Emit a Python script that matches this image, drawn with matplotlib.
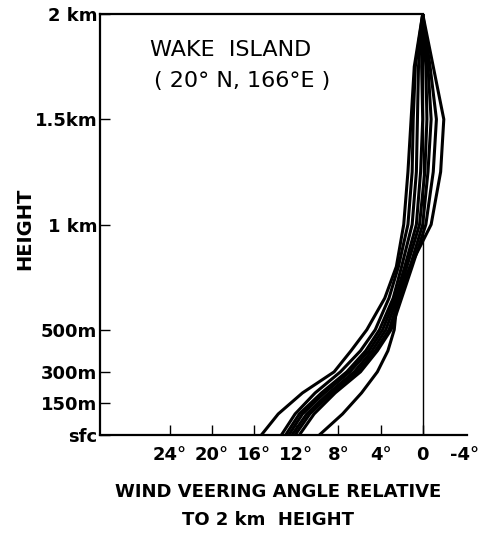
import matplotlib
matplotlib.use("Agg")
import matplotlib.pyplot as plt

# heights (m) at which the veering angle of each sounding is read
heights = [0, 100, 200, 300, 400, 500, 650, 800, 1000, 1250, 1500, 1750, 2000]

# veering angle (deg) relative to the 2 km wind, one list per sounding
sounding_1 = [15.3, 13.7, 11.4, 8.4, 6.8, 5.3, 3.6, 2.5, 1.8, 1.4, 1.1, 0.8, 0.0]
sounding_2 = [13.4, 12.1, 10.2, 7.8, 5.9, 4.5, 3.2, 2.3, 1.4, 1.0, 0.9, 0.7, 0.0]
sounding_3 = [13.0, 11.7, 9.6, 7.2, 5.4, 4.1, 2.8, 2.0, 1.0, 0.6, 0.5, 0.4, 0.0]
sounding_4 = [12.7, 11.4, 9.3, 6.9, 5.1, 3.8, 2.6, 1.7, 0.6, 0.2, 0.0, 0.1, 0.0]
sounding_5 = [12.4, 11.0, 8.9, 6.5, 4.8, 3.5, 2.4, 1.5, 0.3, -0.2, -0.4, -0.3, 0.0]
sounding_6 = [12.1, 10.7, 8.6, 6.2, 4.5, 3.2, 2.2, 1.2, 0.0, -0.5, -0.8, -0.5, 0.0]
sounding_7 = [11.7, 10.3, 8.3, 5.9, 4.3, 3.0, 2.0, 1.0, -0.3, -1.0, -1.3, -0.7, 0.0]
sounding_8 = [9.8, 7.6, 5.8, 4.3, 3.3, 2.7, 2.4, 1.2, -0.8, -1.7, -2.0, -1.0, 0.0]

soundings = [sounding_1, sounding_2, sounding_3, sounding_4,
             sounding_5, sounding_6, sounding_7, sounding_8]

angle_ticks = [24, 20, 16, 12, 8, 4, 0, -4]
angle_labels = ["24°", "20°", "16°", "12°", "8°", "4°", "0", "-4°"]
height_ticks = [0, 150, 300, 500, 1000, 1500, 2000]
height_labels = ["sfc", "150m", "300m", "500m", "1 km", "1.5km", "2 km"]

fig = plt.figure(figsize=(4.81, 5.33), dpi=100)
ax = fig.add_axes([100 / 481, 98 / 533, 367 / 481, 421 / 533])

for s in soundings:
    ax.plot(s, heights, color="black", lw=2.2, solid_joinstyle="round",
            solid_capstyle="round")

# zero-veering reference line
ax.axvline(0, color="black", lw=1.0)

ax.set_xlim(30.6, -4.2)
ax.set_ylim(0, 2000)

ax.spines["right"].set_visible(False)
ax.spines["top"].set_bounds(0, 30.6)
for side in ["left", "bottom", "top"]:
    ax.spines[side].set_linewidth(1.6)

ax.set_xticks(angle_ticks)
ax.set_xticklabels(angle_labels, fontsize=13, fontweight="bold")
ax.set_yticks(height_ticks)
ax.set_yticklabels(height_labels, fontsize=13, fontweight="bold")
ax.tick_params(axis="x", direction="in", length=7, width=1, pad=8)
ax.tick_params(axis="y", direction="in", length=7, width=1, pad=2)
# no tick mark at -4
ax.xaxis.get_major_ticks()[-1].tick1line.set_visible(False)

ax.text(0.135, 0.915, "WAKE  ISLAND", transform=ax.transAxes,
        fontsize=16, ha="left", va="center")
ax.text(0.148, 0.842, "( 20° N, 166°E )", transform=ax.transAxes,
        fontsize=16, ha="left", va="center")

fig.text(25 / 481, 1 - 229 / 533, "HEIGHT", rotation=90, fontsize=14,
         fontweight="bold", ha="center", va="center")
fig.text(278 / 481, 1 - 492 / 533, "WIND VEERING ANGLE RELATIVE",
         fontsize=13, fontweight="bold", ha="center", va="center")
fig.text(268 / 481, 1 - 520 / 533, "TO 2 km  HEIGHT",
         fontsize=13, fontweight="bold", ha="center", va="center")

fig.savefig("out.png", dpi=100)
